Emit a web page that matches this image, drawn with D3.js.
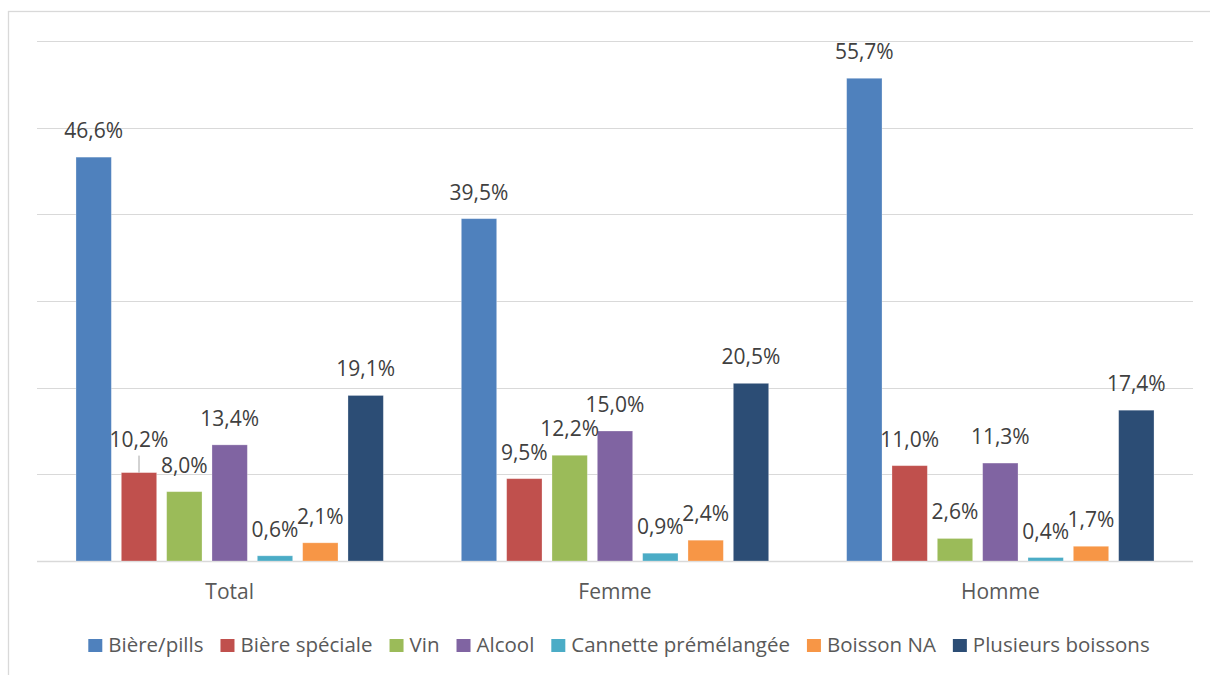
<!DOCTYPE html>
<html>
<head>
<meta charset="utf-8">
<script src="https://cdn.jsdelivr.net/npm/d3@7/dist/d3.min.js"></script>
<style>
  html, body { margin: 0; padding: 0; background: #ffffff; }
  svg { display: block; font-family: "Open Sans", "Noto Sans", sans-serif; }
</style>
</head>
<body>
<svg id="chart" width="1210" height="675"></svg>
<script>
// Groups along the x axis
const categories = ["Total", "Femme", "Homme"];
// Drink types (one bar per type in each group)
const series = ["Bière/pills", "Bière spéciale", "Vin", "Alcool", "Cannette prémélangée", "Boisson NA", "Plusieurs boissons"];
// Percentages per drink type, in the order of the categories
const biereP      = [46.6, 39.5, 55.7];
const biereSpec   = [10.2, 9.5, 11.0];
const vin         = [8.0, 12.2, 2.6];
const alcool      = [13.4, 15.0, 11.3];
const cannette    = [0.6, 0.9, 0.4];
const boissonNA   = [2.1, 2.4, 1.7];
const plusieurs   = [19.1, 20.5, 17.4];
// Gridline values
const gridTicks = [0, 10, 20, 30, 40, 50, 60];

const values = [biereP, biereSpec, vin, alcool, cannette, boissonNA, plusieurs];
const colors = ["#4F81BD", "#C0504D", "#9BBB59", "#8064A2", "#4BACC6", "#F79646", "#2C4D75"];

const svg = d3.select("#chart");
const plotLeft = 37, plotRight = 1193, plotTop = 41, plotBottom = 561;

// Outer chart frame
svg.append("rect")
  .attr("x", 8.5).attr("y", 11.5)
  .attr("width", 1400).attr("height", 900)
  .attr("fill", "none").attr("stroke", "#D9D9D9").attr("stroke-width", 1.3);

const x0 = d3.scaleBand().domain(categories).range([plotLeft, plotRight]).padding(0);
const x1 = d3.scaleBand().domain(series).range([0, x0.bandwidth()])
  .paddingInner(0.22).paddingOuter(0.86);
const y = d3.scaleLinear().domain([0, 60]).range([plotBottom, plotTop]);

// Horizontal gridlines
svg.append("g").selectAll("line").data(gridTicks).join("line")
  .attr("x1", plotLeft).attr("x2", plotRight)
  .attr("y1", d => Math.round(y(d)) + 0.5).attr("y2", d => Math.round(y(d)) + 0.5)
  .attr("stroke", "#D9D9D9").attr("stroke-width", d => d === 0 ? 1.6 : 1.2);

// Flatten into one record per bar
const bars = [];
categories.forEach((c, ci) => {
  series.forEach((s, si) => {
    bars.push({ cat: c, ser: s, si: si, v: values[si][ci] });
  });
});

const g = svg.append("g");
g.selectAll("rect").data(bars).join("rect")
  .attr("x", d => x0(d.cat) + x1(d.ser))
  .attr("y", d => y(d.v))
  .attr("width", x1.bandwidth())
  .attr("height", d => y(0) - y(d.v))
  .attr("fill", d => colors[d.si])
  .attr("stroke", "#ffffff").attr("stroke-opacity", 0.35).attr("stroke-width", 0.8);

// Extra lift for labels that were moved off their bar (drawn with a leader line)
const labelLift = { "Total|Bière spéciale": 7 };
const fmt = v => v.toFixed(1).replace(".", ",") + "%";

const labels = svg.append("g").attr("font-size", 21).attr("fill", "#404040").attr("text-anchor", "middle");
bars.forEach(d => {
  const cx = x0(d.cat) + x1(d.ser) + x1.bandwidth() / 2;
  const lift = labelLift[d.cat + "|" + d.ser] || 0;
  const base = y(d.v) - 19 - lift;
  if (lift) {
    svg.append("line")
      .attr("x1", cx).attr("x2", cx)
      .attr("y1", y(d.v)).attr("y2", base + 9)
      .attr("stroke", "#A6A6A6").attr("stroke-width", 1);
  }
  labels.append("text").attr("x", cx).attr("y", base).text(fmt(d.v));
});

// Category labels
svg.append("g").selectAll("text").data(categories).join("text")
  .attr("x", d => x0(d) + x0.bandwidth() / 2)
  .attr("y", 599)
  .attr("text-anchor", "middle")
  .attr("font-size", 21).attr("fill", "#595959")
  .text(d => d);

// Legend, centred under the plot
const legend = svg.append("g");
let lx = 0;
series.forEach((s, i) => {
  const item = legend.append("g").attr("transform", `translate(${lx},0)`);
  item.append("rect").attr("x", 0).attr("y", 639).attr("width", 14).attr("height", 13).attr("fill", colors[i]);
  const t = item.append("text").attr("x", 20).attr("y", 652)
    .attr("font-size", 20.5).attr("fill", "#595959").text(s);
  lx += 20 + t.node().getComputedTextLength() + 17;
});
const legendWidth = lx - 17;
legend.attr("transform", `translate(${619 - legendWidth / 2},0)`);
</script>
</body>
</html>
